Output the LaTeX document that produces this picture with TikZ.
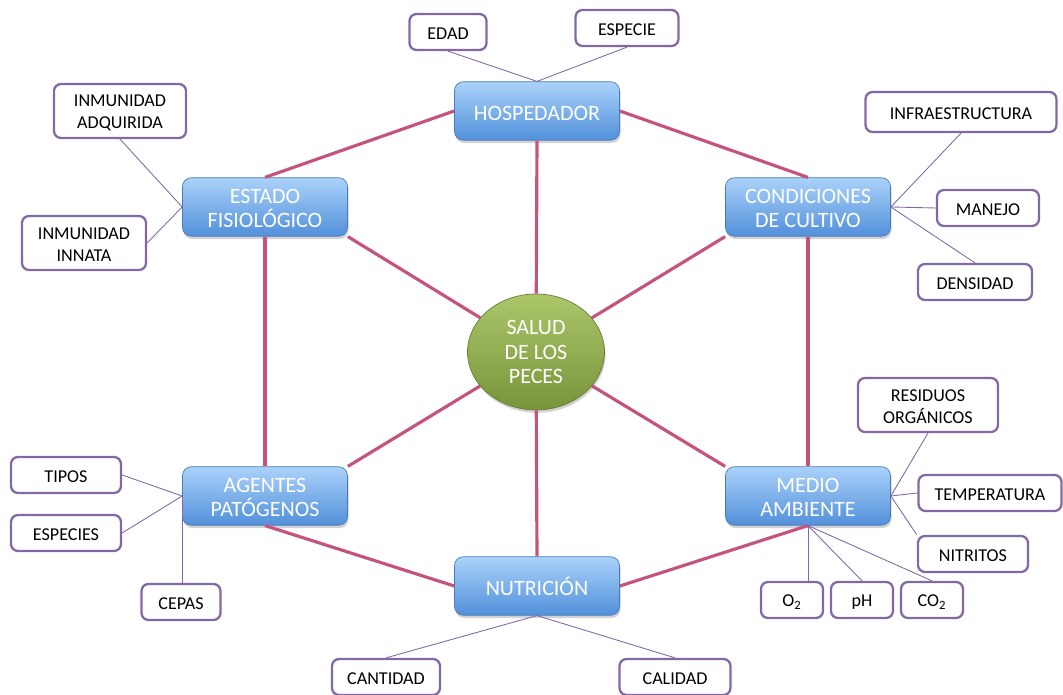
\documentclass[tikz,border=0pt]{standalone}
\usepackage{fontspec}
\setmainfont{Carlito}
\usepackage{xcolor}
\usetikzlibrary{shapes, positioning, shadows}
\definecolor{linkpink}{RGB}{196,84,126}
\definecolor{leafpurple}{RGB}{132,104,166}
\definecolor{topiclight}{RGB}{170,210,250}
\definecolor{topicdark}{RGB}{82,144,218}
\definecolor{healthlight}{RGB}{172,198,106}
\definecolor{healthdark}{RGB}{120,148,58}
\tikzset{
  topicnode/.style={draw=topicdark!85!black, thin, rounded corners=5pt, top color=topiclight, bottom color=topicdark, text=white, minimum width=3.3cm, minimum height=1.17cm, align=center, inner sep=0pt, text height=10.4pt, font=\fontsize{12.5}{13.8}\selectfont, drop shadow={opacity=0.35, shadow xshift=0.6pt, shadow yshift=-1.6pt}},
  twotopic/.style={text height=23.6pt},
  healthnode/.style={draw=healthdark!85!black, thin, ellipse, top color=healthlight, bottom color=healthdark, text=white, minimum width=2.74cm, minimum height=2.32cm, align=center, inner sep=0pt, font=\fontsize{12.5}{14}\selectfont, drop shadow={opacity=0.35, shadow xshift=0.6pt, shadow yshift=-1.6pt}},
  leafnode/.style={draw=leafpurple, line width=1.3pt, rounded corners=4pt, fill=white, minimum height=0.72cm, align=center, inner sep=0pt, text height=8.8pt, font=\fontsize{10.3}{12.5}\selectfont},
  twoline/.style={minimum height=1.08cm, text height=21pt},
  linkline/.style={draw=linkpink, line width=1.8pt},
  leafline/.style={draw=leafpurple, line width=0.5pt}
}

\begin{document}
\begin{tikzpicture}[x=0.02cm, y=-0.02cm]
\useasboundingbox (0,0) rectangle (1063,695);

% Nodes
\node[healthnode] (salud) at (536,352) {SALUD\\DE LOS\\PECES};
\node[topicnode] (hosp) at (537,111) {HOSPEDADOR};
\node[topicnode, twotopic] (estado) at (265,207) {ESTADO\\FISIOLÓGICO};
\node[topicnode, twotopic] (cond) at (808,207) {CONDICIONES\\DE CULTIVO};
\node[topicnode, twotopic] (agentes) at (265,496) {AGENTES\\PATÓGENOS};
\node[topicnode, twotopic] (medio) at (808,496) {MEDIO\\AMBIENTE};
\node[topicnode] (nutri) at (537,586) {NUTRICIÓN};

% Leaves
\node[leafnode, minimum width=1.54cm] (edad) at (448,32) {EDAD};
\node[leafnode, minimum width=2.06cm] (especie) at (627,28) {ESPECIE};
\node[leafnode, twoline, minimum width=2.64cm] (adquirida) at (120,111) {INMUNIDAD\\ADQUIRIDA};
\node[leafnode, twoline, minimum width=2.48cm] (innata) at (84,243) {INMUNIDAD\\INNATA};
\node[leafnode, minimum width=3.82cm, minimum height=0.8cm] (infra) at (961,112) {INFRAESTRUCTURA};
\node[leafnode, minimum width=2.04cm] (manejo) at (988,208) {MANEJO};
\node[leafnode, minimum width=2.28cm] (densidad) at (975,282) {DENSIDAD};
\node[leafnode, twoline, minimum width=2.8cm] (residuos) at (928,405) {RESIDUOS\\ORGÁNICOS};
\node[leafnode, minimum width=2.86cm] (temp) at (990,493) {TEMPERATURA};
\node[leafnode, minimum width=2.2cm] (nitritos) at (973,554) {NITRITOS};
\node[leafnode, minimum width=1.24cm] (oxig) at (792,600) {O\textsubscript{2}};
\node[leafnode, minimum width=1.24cm] (ph) at (862,600) {pH};
\node[leafnode, minimum width=1.24cm] (carbono) at (932,600) {CO\textsubscript{2}};
\node[leafnode, minimum width=2.2cm] (tipos) at (66,475) {TIPOS};
\node[leafnode, minimum width=2.2cm] (especies) at (66,533) {ESPECIES};
\node[leafnode, minimum width=1.58cm] (cepas) at (181,602) {CEPAS};
\node[leafnode, minimum width=2.16cm] (cantidad) at (386,677) {CANTIDAD};
\node[leafnode, minimum width=2.22cm] (calidad) at (675,677) {CALIDAD};

% Connections
\draw[linkline] (hosp.west) -- (estado.north);
\draw[linkline] (hosp.east) -- (cond.north);
\draw[linkline] (estado.south) -- (agentes.north);
\draw[linkline] (cond.south) -- (medio.north);
\draw[linkline] (agentes.south) -- (nutri.west);
\draw[linkline] (medio.south) -- (nutri.east);
\draw[linkline] (salud) -- (hosp.south);
\draw[linkline] (salud) -- (nutri.north);
\draw[linkline] (salud) -- (estado.south east);
\draw[linkline] (salud) -- (cond.south west);
\draw[linkline] (salud) -- (agentes.north east);
\draw[linkline] (salud) -- (medio.north west);

\draw[leafline] (edad.south) -- (hosp.north);
\draw[leafline] (especie.south) -- (hosp.north);
\draw[leafline] (adquirida.south) -- (estado.west);
\draw[leafline] (innata.east) -- (estado.west);
\draw[leafline] (infra.south) -- (cond.east);
\draw[leafline] (manejo.west) -- (cond.east);
\draw[leafline] (densidad.north) -- (cond.east);
\draw[leafline] (residuos.south) -- (medio.east);
\draw[leafline] (temp.west) -- (medio.east);
\draw[leafline] (nitritos.north west) -- (medio.east);
\draw[leafline] (medio.south) -- (medio.south |- oxig.north);
\draw[leafline] (medio.south) -- (ph.north);
\draw[leafline] (medio.south) -- (carbono.north);
\draw[leafline] (tipos.east) -- (agentes.west);
\draw[leafline] (especies.east) -- (agentes.west);
\draw[leafline] (agentes.west) -- (agentes.west |- cepas.north);
\draw[leafline] (nutri.south) -- (cantidad.north);
\draw[leafline] (nutri.south) -- (calidad.north);

\end{tikzpicture}
\end{document}
